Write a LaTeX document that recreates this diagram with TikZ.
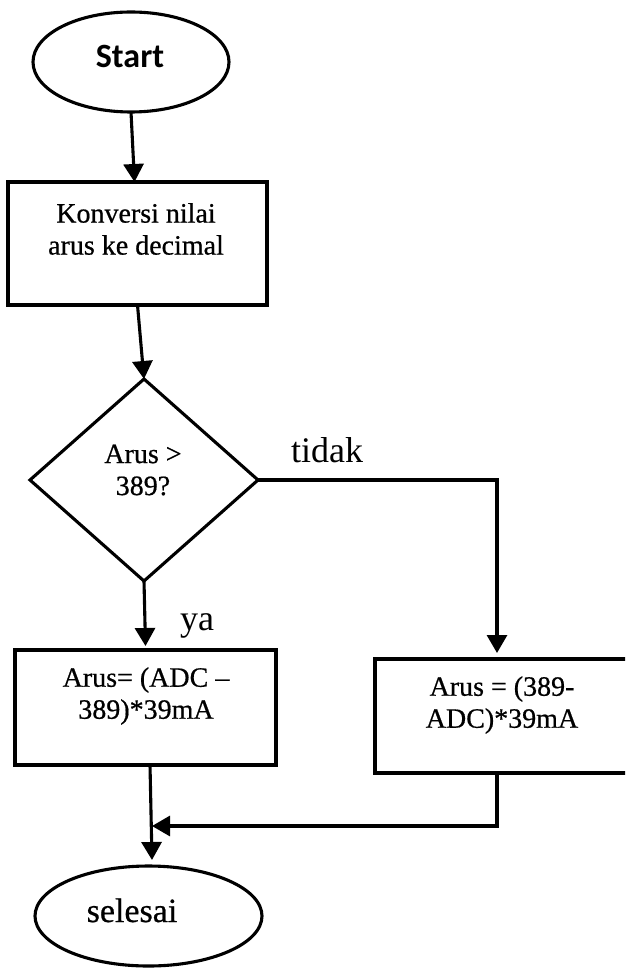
\documentclass[tikz,border=0pt]{standalone}
\usepackage{fontspec}
\setmainfont{Liberation Serif}
\newfontfamily\startfont{Carlito}
\newfontfamily\boldserif{Liberation Serif}[FakeBold=0.6,Ligatures=TeX]
\usetikzlibrary{arrows.meta,shapes.geometric}
\begin{document}
\begin{tikzpicture}[x=1pt,y=-1pt,
  every node/.style={inner sep=0pt,outer sep=0pt},
  shapeline/.style={draw=black,line width=3.1pt},
  procbox/.style={shapeline,rectangle},
  termshape/.style={shapeline,ellipse},
  decshape/.style={shapeline,diamond},
  boxtext/.style={align=center,font=\boldserif\fontsize{28}{32}\selectfont},
  branchtext/.style={font=\fontsize{36}{40}\selectfont,anchor=base},
  conn/.style={line width=3.1pt,-{Triangle[width=20pt,length=18pt]}}]
\useasboundingbox (0,0) rectangle (625,968);
\clip (0,0) rectangle (625,968);
\fill[white] (0,0) rectangle (625,968);
% shapes
\node[termshape,minimum width=196pt,minimum height=100pt] (start) at (131,62) {};
\node[anchor=base,font=\startfont\bfseries\fontsize{34}{38}\selectfont] (starttext) at (130,67.5) {Start};
\node[procbox,minimum width=259pt,minimum height=123pt] (b1) at (137.5,243.5) {};
\node[boxtext] (b1text) at (136,229) {Konversi nilai\\arus ke decimal};
\node[decshape,minimum width=228pt,minimum height=202pt] (dia) at (144,480) {};
\node[boxtext] (diatext) at (143,470) {Arus >\\389?};
\node[procbox,minimum width=261pt,minimum height=115pt] (b3) at (145.5,707.5) {};
\node[boxtext] (b3text) at (146,696) {Arus= (ADC –\\389)*39mA};
\node[procbox,minimum width=256pt,minimum height=114pt] (b2) at (503,716) {};
\node[boxtext] (b2text) at (502,705) {Arus = (389-\\ADC)*39mA};
\node[termshape,minimum width=227pt,minimum height=100pt] (sel) at (148.5,916) {};
\node[anchor=base,font=\boldserif\fontsize{34}{38}\selectfont] (seltext) at (132,922) {selesai};
% branch labels
\node[branchtext] (tidak) at (327,462) {tidak};
\node[branchtext] (ya) at (197,630) {ya};
% connectors
\draw[conn] (start.south) -- ([xshift=3.5pt]start.south |- b1.north);
\draw[conn] (b1.south) -- (dia.north);
\draw[conn] (dia.south) -- ([yshift=4pt]b3.north);
\draw[conn] (dia.east) -| ([xshift=-6pt,yshift=6pt]b2.north);
\coordinate (merge) at (152,826);
\draw[conn] ([xshift=4.5pt]b3.south) -- ([xshift=3.5pt,yshift=6pt]sel.north);
\draw[conn] ([xshift=-6pt]b2.south) |- (merge);
\end{tikzpicture}
\end{document}
